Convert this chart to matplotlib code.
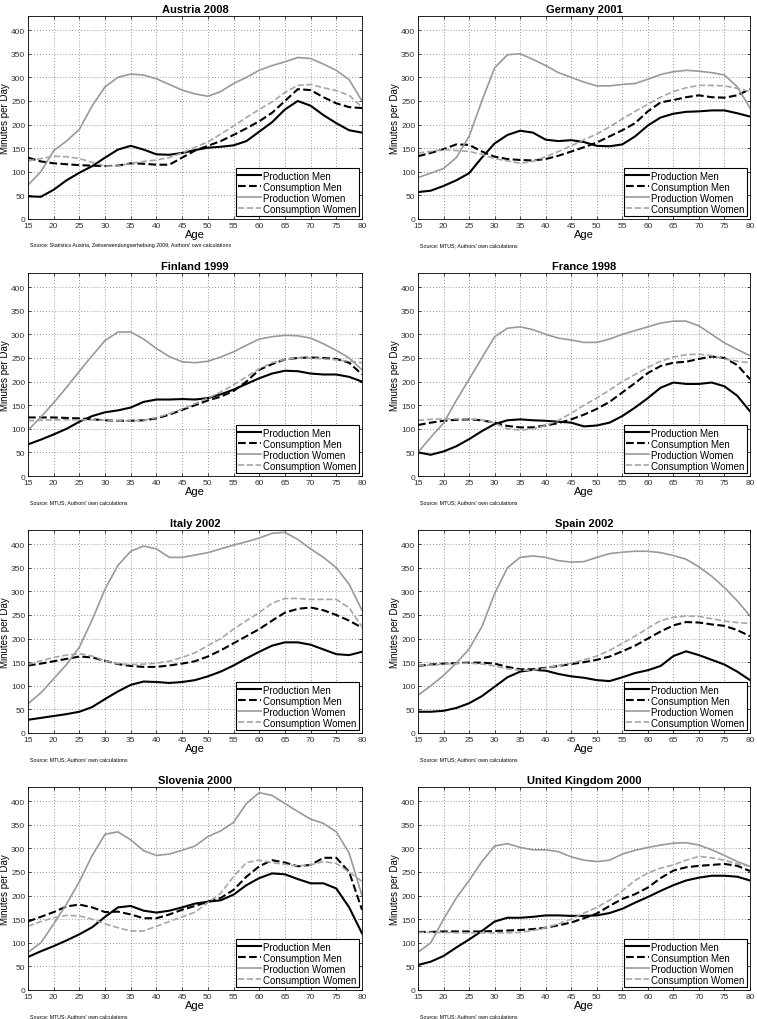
import numpy as np
import matplotlib.pyplot as plt

plt.rcParams["font.family"] = ["Liberation Sans", "DejaVu Sans"]

ages = np.arange(15, 80.1, 2.5)

titles = ["Austria 2008", "Germany 2001", "Finland 1999", "France 1998",
          "Italy 2002", "Spain 2002", "Slovenia 2000", "United Kingdom 2000"]
sources = ["Source: Statistics Austria, Zeitverwendungserhebung 2009; Authors' own calculations"] + \
          ["Source: MTUS; Authors' own calculations"] * 7
labels = ["Production Men", "Consumption Men", "Production Women", "Consumption Women"]

# minutes per day, ages 15, 17.5, ..., 80
austria_pm = [48, 47, 62, 82, 98, 112, 130, 147, 155, 147, 137, 136, 140, 146, 151, 153, 156, 165, 185, 205, 232, 250, 240, 220, 203, 188, 183]
austria_cm = [130, 122, 118, 116, 114, 113, 112, 113, 118, 117, 115, 115, 130, 145, 155, 165, 178, 192, 207, 225, 250, 275, 273, 258, 245, 237, 235]
austria_pw = [72, 100, 145, 165, 190, 240, 280, 300, 307, 305, 297, 285, 273, 265, 260, 270, 287, 300, 315, 325, 333, 342, 340, 328, 315, 295, 250]
austria_cw = [123, 128, 133, 132, 128, 120, 112, 112, 118, 122, 125, 130, 140, 152, 163, 180, 197, 215, 232, 248, 268, 283, 285, 278, 272, 262, 237]

germany_pm = [57, 60, 70, 82, 97, 130, 160, 178, 187, 183, 168, 165, 167, 163, 155, 154, 158, 175, 198, 215, 223, 227, 228, 230, 230, 224, 217]
germany_cm = [133, 140, 148, 158, 157, 143, 132, 127, 125, 124, 127, 134, 143, 152, 162, 175, 188, 203, 228, 247, 252, 258, 262, 258, 257, 262, 275]
germany_pw = [88, 97, 107, 130, 175, 250, 320, 348, 350, 338, 325, 310, 300, 290, 282, 282, 285, 287, 296, 306, 312, 315, 313, 310, 305, 280, 235]
germany_cw = [140, 143, 147, 145, 143, 137, 128, 123, 118, 122, 132, 143, 155, 168, 180, 195, 212, 228, 243, 258, 270, 278, 283, 283, 282, 277, 270]

finland_pm = [67, 77, 88, 100, 115, 127, 135, 139, 145, 157, 162, 162, 163, 162, 165, 173, 183, 195, 207, 217, 223, 222, 217, 215, 215, 210, 200]
finland_cm = [124, 124, 124, 123, 122, 120, 118, 117, 117, 118, 122, 130, 140, 150, 160, 168, 180, 200, 225, 237, 247, 250, 251, 250, 248, 240, 215]
finland_pw = [97, 125, 155, 188, 222, 255, 287, 305, 305, 290, 270, 253, 242, 240, 243, 252, 263, 277, 290, 295, 298, 297, 292, 280, 266, 250, 225]
finland_cw = [117, 118, 119, 119, 119, 119, 118, 117, 117, 118, 124, 132, 142, 153, 165, 178, 193, 210, 227, 240, 247, 250, 250, 248, 246, 243, 240]

france_pm = [50, 45, 52, 63, 78, 95, 110, 118, 120, 118, 117, 115, 113, 105, 107, 113, 127, 145, 165, 187, 198, 195, 195, 198, 190, 170, 137]
france_cm = [108, 113, 117, 119, 120, 118, 113, 106, 103, 103, 107, 112, 120, 130, 142, 157, 177, 197, 218, 233, 240, 242, 248, 253, 250, 235, 205]
france_pw = [50, 82, 112, 160, 205, 250, 295, 313, 316, 310, 300, 292, 288, 283, 283, 290, 300, 308, 316, 324, 328, 328, 318, 300, 282, 268, 255]
france_cw = [118, 120, 121, 121, 121, 119, 112, 100, 97, 100, 107, 118, 133, 150, 165, 182, 200, 215, 230, 243, 252, 257, 258, 255, 248, 243, 240]

italy_pm = [28, 32, 36, 40, 45, 55, 72, 88, 102, 109, 108, 106, 108, 112, 120, 130, 143, 158, 172, 185, 192, 192, 187, 177, 167, 165, 172]
italy_cm = [143, 147, 152, 157, 162, 160, 153, 146, 142, 140, 140, 143, 147, 152, 162, 175, 190, 205, 220, 238, 255, 263, 266, 260, 250, 238, 223]
italy_pw = [62, 85, 115, 145, 182, 240, 305, 355, 385, 396, 390, 372, 372, 377, 382, 390, 398, 405, 413, 423, 425, 410, 390, 372, 350, 315, 260]
italy_cw = [145, 153, 160, 165, 168, 163, 153, 147, 145, 146, 148, 152, 160, 170, 185, 200, 220, 238, 255, 275, 285, 285, 283, 283, 283, 265, 225]

spain_pm = [45, 45, 47, 53, 63, 78, 98, 118, 130, 134, 132, 125, 120, 117, 112, 110, 118, 127, 133, 142, 163, 173, 165, 155, 145, 130, 112]
spain_cm = [142, 145, 147, 148, 149, 149, 147, 140, 135, 135, 138, 142, 146, 150, 155, 162, 173, 185, 200, 215, 228, 235, 234, 230, 227, 218, 205]
spain_pw = [80, 100, 122, 148, 178, 225, 295, 350, 372, 375, 372, 365, 362, 363, 372, 380, 383, 385, 385, 382, 376, 368, 352, 332, 308, 280, 248]
spain_cw = [143, 144, 146, 147, 148, 146, 142, 136, 133, 133, 137, 143, 148, 155, 163, 175, 190, 205, 222, 238, 245, 248, 247, 242, 237, 234, 232]

slovenia_pm = [70, 82, 93, 105, 118, 133, 155, 175, 178, 168, 164, 168, 175, 183, 187, 190, 202, 222, 237, 247, 245, 235, 226, 226, 215, 175, 120]
slovenia_cm = [145, 155, 165, 177, 181, 175, 165, 166, 160, 152, 152, 160, 170, 178, 187, 195, 212, 240, 262, 275, 270, 262, 265, 280, 280, 250, 170]
slovenia_pw = [80, 100, 140, 182, 230, 285, 330, 335, 318, 295, 285, 288, 296, 305, 325, 337, 355, 395, 418, 412, 395, 378, 362, 353, 335, 290, 200]
slovenia_cw = [135, 145, 153, 158, 157, 150, 140, 132, 125, 125, 135, 145, 155, 165, 185, 205, 240, 270, 275, 270, 266, 263, 265, 272, 268, 250, 230]

uk_pm = [53, 60, 72, 90, 107, 125, 145, 153, 153, 155, 158, 158, 157, 157, 158, 163, 172, 185, 197, 210, 222, 232, 238, 242, 242, 240, 232]
uk_cm = [123, 123, 124, 124, 124, 124, 125, 126, 127, 129, 132, 137, 143, 152, 162, 178, 193, 203, 217, 237, 253, 260, 263, 265, 267, 263, 252]
uk_pw = [80, 100, 150, 195, 232, 272, 305, 310, 302, 297, 297, 293, 282, 275, 272, 275, 288, 296, 302, 307, 311, 312, 307, 297, 285, 272, 262]
uk_cw = [122, 122, 122, 121, 121, 121, 121, 121, 122, 126, 132, 140, 150, 163, 175, 190, 210, 232, 248, 258, 265, 275, 283, 280, 275, 267, 262]

panels = [
	(austria_pm, austria_cm, austria_pw, austria_cw),
	(germany_pm, germany_cm, germany_pw, germany_cw),
	(finland_pm, finland_cm, finland_pw, finland_cw),
	(france_pm, france_cm, france_pw, france_cw),
	(italy_pm, italy_cm, italy_pw, italy_cw),
	(spain_pm, spain_cm, spain_pw, spain_cw),
	(slovenia_pm, slovenia_cm, slovenia_pw, slovenia_cw),
	(uk_pm, uk_cm, uk_pw, uk_cw),
]

styles = [("black", "-", 1.5), ("black", "--", 1.5), ("0.6", "-", 1.2), ("0.65", "--", 1.2)]

W, H = 757, 1020
fig = plt.figure(figsize=(W/100, H/100), dpi=100)

lefts = [28, 418]
widths = [334, 332]
tops = [17, 274, 531, 788]
ah = 203

for i, (title, src, series) in enumerate(zip(titles, sources, panels)):
	r, c = divmod(i, 2)
	ax = fig.add_axes([lefts[c]/W, 1-(tops[r]+ah)/H, widths[c]/W, ah/H])
	for s, (col, ls, lw), lab in zip(series, styles, labels):
		ax.plot(ages, s, color=col, linestyle=ls, linewidth=lw, label=lab)
	ax.set_xlim(15, 80)
	ax.set_ylim(0, 430)
	ax.set_xticks(np.arange(15, 81, 5))
	ax.set_yticks(np.arange(0, 401, 50))
	ax.tick_params(direction="in", labelsize=6, length=2.5, width=0.5, top=True, right=True, pad=2,
		labelcolor="0.2")
	ax.grid(True, linestyle=(0, (1, 2.5)), color="0.45", linewidth=0.6)
	for sp in ax.spines.values():
		sp.set_linewidth(0.6)
	ax.set_title(title, fontsize=8, fontweight="bold", pad=3)
	ax.set_xlabel("Age", fontsize=8, labelpad=0)
	ax.set_ylabel("Minutes per Day", fontsize=7, labelpad=1)
	leg = ax.legend(loc="lower right", fontsize=7, fancybox=False, framealpha=1,
		edgecolor="black", borderpad=0.25, labelspacing=0.1, handlelength=2.4,
		handletextpad=0.2, borderaxespad=0.3)
	leg.get_frame().set_linewidth(0.8)
	fig.text((lefts[c]+2)/W, 1-(tops[r]+ah+26)/H, src, fontsize=3.8, va="center")

fig.savefig("out.png", dpi=100)
